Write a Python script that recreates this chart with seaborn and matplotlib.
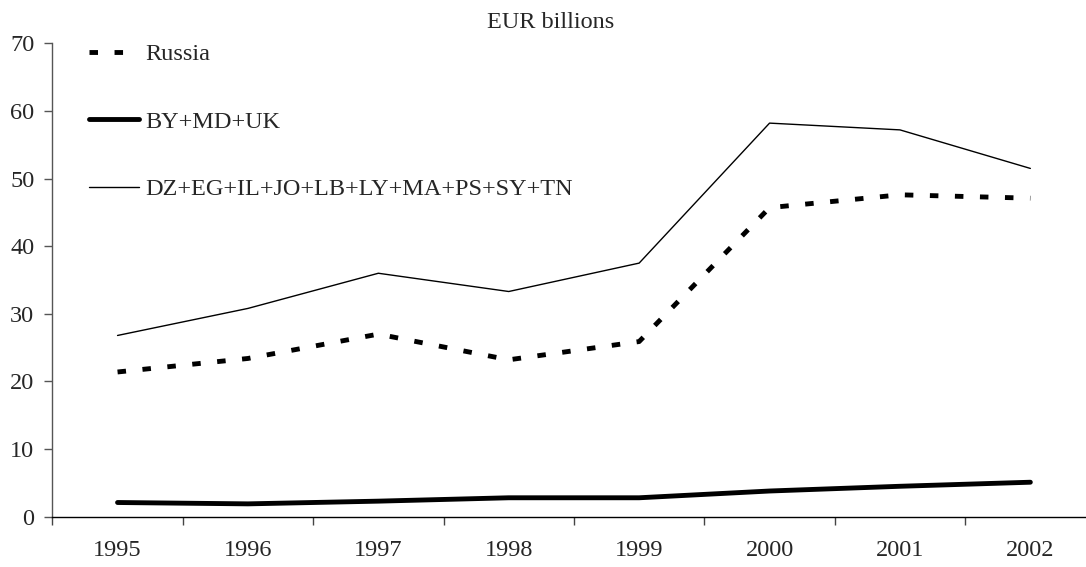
import numpy as np
import pandas as pd
import matplotlib
matplotlib.use("Agg")
import matplotlib.pyplot as plt
from matplotlib.ticker import FixedLocator
import seaborn as sns

# data (EUR billions)
years = ["1995", "1996", "1997", "1998", "1999", "2000", "2001", "2002"]
russia = [21.4, 23.4, 27.0, 23.2, 25.9, 45.7, 47.6, 47.1]
by_md_uk = [2.1, 1.9, 2.3, 2.8, 2.8, 3.8, 4.5, 5.1]
med = [26.8, 30.8, 36.0, 33.3, 37.5, 58.2, 57.2, 51.5]
labels = ["Russia", "BY+MD+UK", "DZ+EG+IL+JO+LB+LY+MA+PS+SY+TN"]

sns.set_style("white")
plt.rcParams['font.family'] = ['Liberation Serif', 'DejaVu Serif']
fs = 17.5

fig = plt.figure(figsize=(10.86, 5.67), dpi=100)
ax = fig.add_axes([0.0482, 0.0887, 0.9606, 0.8349])

x = np.arange(len(years))
df = pd.DataFrame({"x": x, "russia": russia, "by": by_md_uk, "med": med})

sns.lineplot(data=df, x="x", y="russia", ax=ax, color="black", lw=3.5,
             label=labels[0], linestyle=(0, (1.75, 3.4)))
sns.lineplot(data=df, x="x", y="by", ax=ax, color="black", lw=3.5,
             label=labels[1])
sns.lineplot(data=df, x="x", y="med", ax=ax, color="black", lw=1.0,
             label=labels[2])
for ln in ax.get_lines():
    ln.set_dash_capstyle("butt")

ax.set_xlim(-0.5, len(years) - 0.5)
ax.set_ylim(0, 70)
ax.set_yticks(range(0, 71, 10))
ax.set_xticks(x)
ax.set_xticklabels(years)
ax.xaxis.set_minor_locator(FixedLocator(np.arange(-0.5, len(years), 1.0)))
ax.tick_params(axis="x", which="major", length=0, pad=16.5, labelsize=fs)
ax.tick_params(axis="x", which="minor", length=6, width=1, color="#444444",
               direction="out", bottom=True)
ax.tick_params(axis="y", length=6, width=1, color="#555555", direction="out",
               pad=7, labelsize=fs, left=True)
ax.set_xlabel("")
ax.set_ylabel("")

for s in ["top", "right"]:
    ax.spines[s].set_visible(False)
ax.spines["left"].set_color("#555555")
ax.spines["bottom"].set_color("black")
ax.spines["left"].set_linewidth(1)
ax.spines["bottom"].set_linewidth(1)

fig.text(551 / 1086, 1 - 23 / 567, "EUR billions", ha="center", va="center",
         fontsize=fs)

leg = ax.legend(loc="upper left", bbox_to_anchor=(89 / 1086, 1 - 43 / 567),
                bbox_transform=fig.transFigure, frameon=False, fontsize=fs,
                handlelength=2.06, handletextpad=0.25, labelspacing=1.88,
                borderpad=0, borderaxespad=0)

fig.savefig("out.png", dpi=100, facecolor="white")
